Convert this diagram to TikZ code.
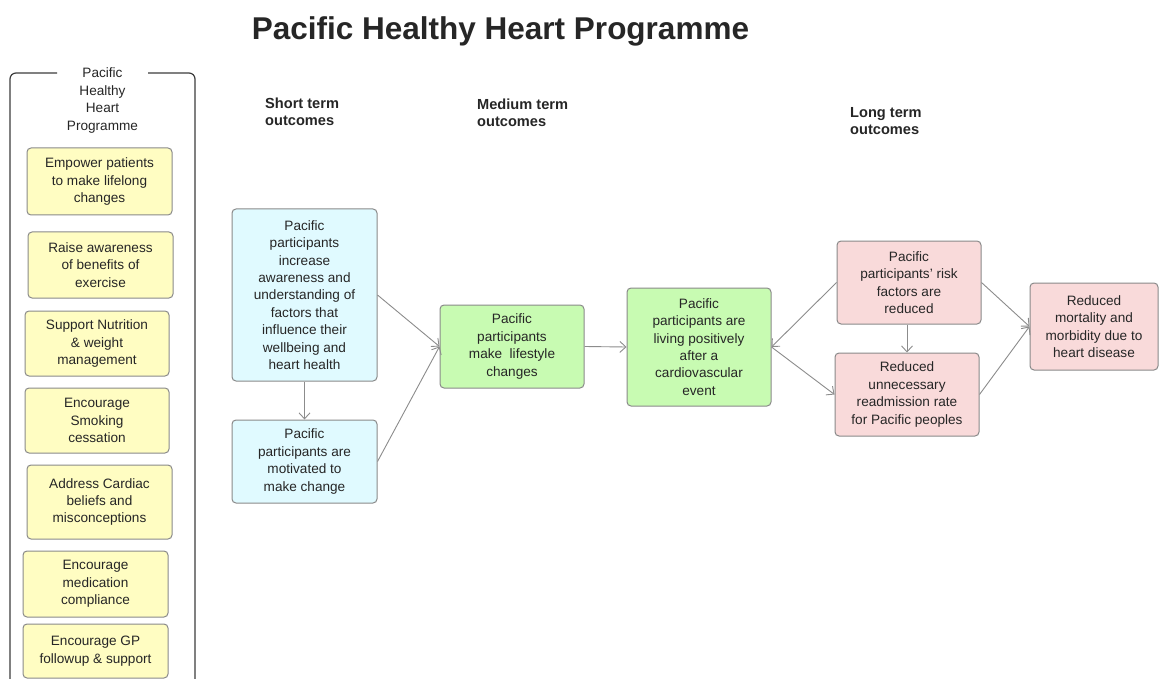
\documentclass[tikz,border=0pt]{standalone}
\usepackage{fontspec}
\setmainfont{Liberation Sans}
\usetikzlibrary{arrows.meta}
\definecolor{txt}{HTML}{262626}
\definecolor{bord}{HTML}{8A8A8A}
\definecolor{yel}{HTML}{FFFDC2}
\definecolor{blu}{HTML}{E0FAFF}
\definecolor{grn}{HTML}{C8FBB2}
\definecolor{pnk}{HTML}{F9DADA}
\definecolor{conn}{HTML}{8C8C8C}
\tikzset{
  box/.style={draw=bord, line width=1pt, rounded corners=4pt, align=center, text=txt,
    inner sep=0pt, font=\fontsize{13.6}{17.4}\selectfont},
  ybox/.style={box, fill=yel},
  bbox/.style={box, fill=blu},
  gbox/.style={box, fill=grn},
  pbox/.style={box, fill=pnk},
  hdr/.style={anchor=west, align=left, text=txt, inner sep=0pt, font=\bfseries\fontsize{14.6}{17}\selectfont},
  conn/.style={draw=conn, line width=0.9pt, -{Straight Barb[length=6pt,width=11pt]}}
}
\begin{document}
\begin{tikzpicture}[x=1pt,y=-1pt]
\useasboundingbox (0,0) rectangle (1159,679);
\clip (0,0) rectangle (1159,679);
\fill[white] (0,0) rectangle (1159,679);
% title
\node[text=txt, inner sep=0pt, font=\bfseries\fontsize{31.5}{34}\selectfont] (title) at (500.5,31) {Pacific Healthy Heart Programme};
% frame
\draw[line width=1.2pt, draw=txt!90, rounded corners=6pt] (57,73) -- (10,73) -- (10,700);
\draw[line width=1.2pt, draw=txt!90, rounded corners=6pt] (148,73) -- (195,73) -- (195,700);
\node[align=center, text=txt, inner sep=0pt, font=\fontsize{13.6}{17.6}\selectfont] (ftitle) at (102.5,100.5) {Pacific\\Healthy\\Heart\\Programme};
% yellow
\node[ybox, minimum width=145, minimum height=67] (y1) at (99.5,181.5) {Empower patients\\to make lifelong\\changes};
\node[ybox, minimum width=145, minimum height=66] (y2) at (100.5,265) {Raise awareness\\of benefits of\\exercise};
\node[ybox, minimum width=144, minimum height=65] (y3) at (97,343.5) {Support Nutrition\\\& weight\\management};
\node[ybox, minimum width=144, minimum height=65] (y4) at (97,420.5) {Encourage\\Smoking\\cessation};
\node[ybox, minimum width=145, minimum height=74] (y5) at (99.5,502) {Address Cardiac\\beliefs and\\misconceptions};
\node[ybox, minimum width=145, minimum height=66] (y6) at (95.5,584) {Encourage\\medication\\compliance};
\node[ybox, minimum width=145, minimum height=54] (y7) at (95.5,651) {Encourage GP\\followup \& support};
% headers
\node[hdr] (h1) at (265,112) {Short term\\outcomes};
\node[hdr] (h2) at (477,112.5) {Medium term\\outcomes};
\node[hdr] (h3) at (850,121.5) {Long term\\outcomes};
% outcome boxes
\node[bbox, minimum width=145, minimum height=172] (b1) at (304.5,295) {Pacific\\participants\\increase\\awareness and\\understanding of\\factors that\\influence their\\wellbeing and\\heart health};
\node[bbox, minimum width=145, minimum height=83] (b2) at (304.5,461.5) {Pacific\\participants are\\motivated to\\make change};
\node[gbox, minimum width=144, minimum height=83] (g1) at (512,346.5) {Pacific\\participants\\make\ \ lifestyle\\changes};
\node[gbox, minimum width=144, minimum height=118] (g2) at (699,347) {Pacific\\participants are\\living positively\\after a\\cardiovascular\\event};
\node[pbox, minimum width=144, minimum height=83] (p1) at (909,282.5) {Pacific\\participants' risk\\factors are\\reduced};
\node[pbox, minimum width=144, minimum height=83] (p2) at (907,394.5) {Reduced\\unnecessary\\readmission rate\\for Pacific peoples};
\node[pbox, minimum width=128, minimum height=87] (p3) at (1094,326.5) {Reduced\\mortality and\\morbidity due to\\heart disease};
% connectors
\draw[conn] (b1.south) -- (b2.north);
\draw[conn] (b1.east) -- (g1.west);
\draw[conn] (b2.east) -- (g1.west);
\draw[conn] (g1.east) -- (g2.west);
\draw[conn] (p1.west) -- (g2.east);
\draw[conn] (g2.east) -- (p2.west);
\draw[conn] (p2.north |- p1.south) -- (p2.north);
\draw[conn] (p1.east) -- (p3.west);
\draw[conn] (p2.east) -- (p3.west);
\end{tikzpicture}
\end{document}
